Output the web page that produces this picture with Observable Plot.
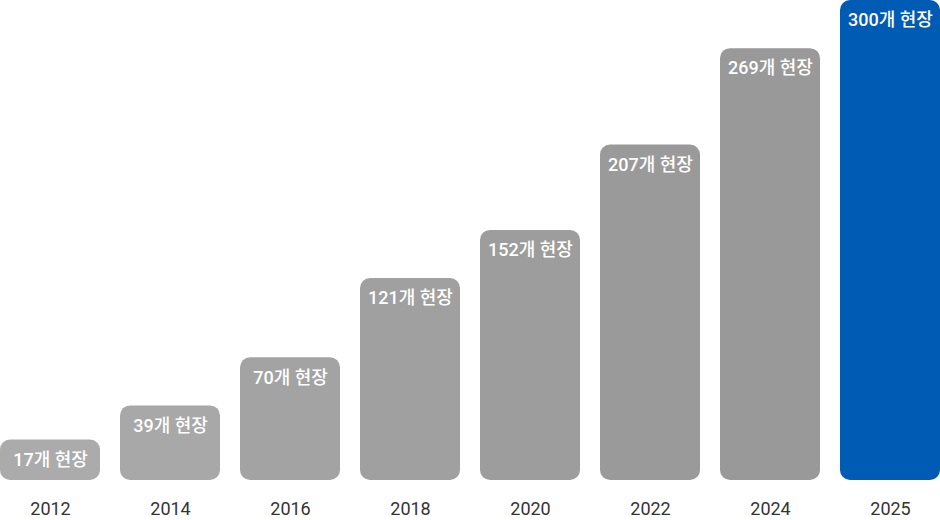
<!DOCTYPE html>
<html>
<head>
<meta charset="utf-8">
<script src="https://cdn.jsdelivr.net/npm/d3@7"></script>
<script src="https://cdn.jsdelivr.net/npm/@observablehq/plot@0.6"></script>
<style>
  html, body { margin: 0; padding: 0; background: #fff; }
  #chart svg { display: block; }
</style>
</head>
<body>
<div id="chart"></div>
<script>
const years = ["2012", "2014", "2016", "2018", "2020", "2022", "2024", "2025"];
const sites = [17, 39, 70, 121, 152, 207, 269, 300];
const labels = ["17개 현장", "39개 현장", "70개 현장", "121개 현장", "152개 현장", "207개 현장", "269개 현장", "300개 현장"];
const palette = ["#ababab", "#a8a8a8", "#a3a3a3", "#a0a0a0", "#9d9d9d", "#9a9a9a", "#999999", "#005bb5"];

const data = years.map((year, i) => ({year, value: sites[i], label: labels[i]}));

const chart = Plot.plot({
  width: 940,
  height: 520,
  marginTop: 0,
  marginRight: 0,
  marginLeft: 0,
  marginBottom: 40,
  style: {fontFamily: "Roboto, 'Noto Sans CJK KR', sans-serif", color: "#333", background: "#fff"},
  x: {domain: years, paddingInner: 1 / 6, paddingOuter: 0, label: null},
  y: {domain: [0, 300], range: [466, 0], axis: null},
  color: {domain: years, range: palette},
  marks: [
    Plot.barY(data, {x: "year", y: "value", fill: "year", rx: 10, insetBottom: -14}),
    Plot.text(data, {x: "year", y: "value", text: "label", dy: 20, fill: "white", fontSize: 18, fontWeight: 500}),
    Plot.axisX({tickSize: 0, tickPadding: 22, fontSize: 18, label: null})
  ]
});
document.getElementById("chart").appendChild(chart);
</script>
</body>
</html>
